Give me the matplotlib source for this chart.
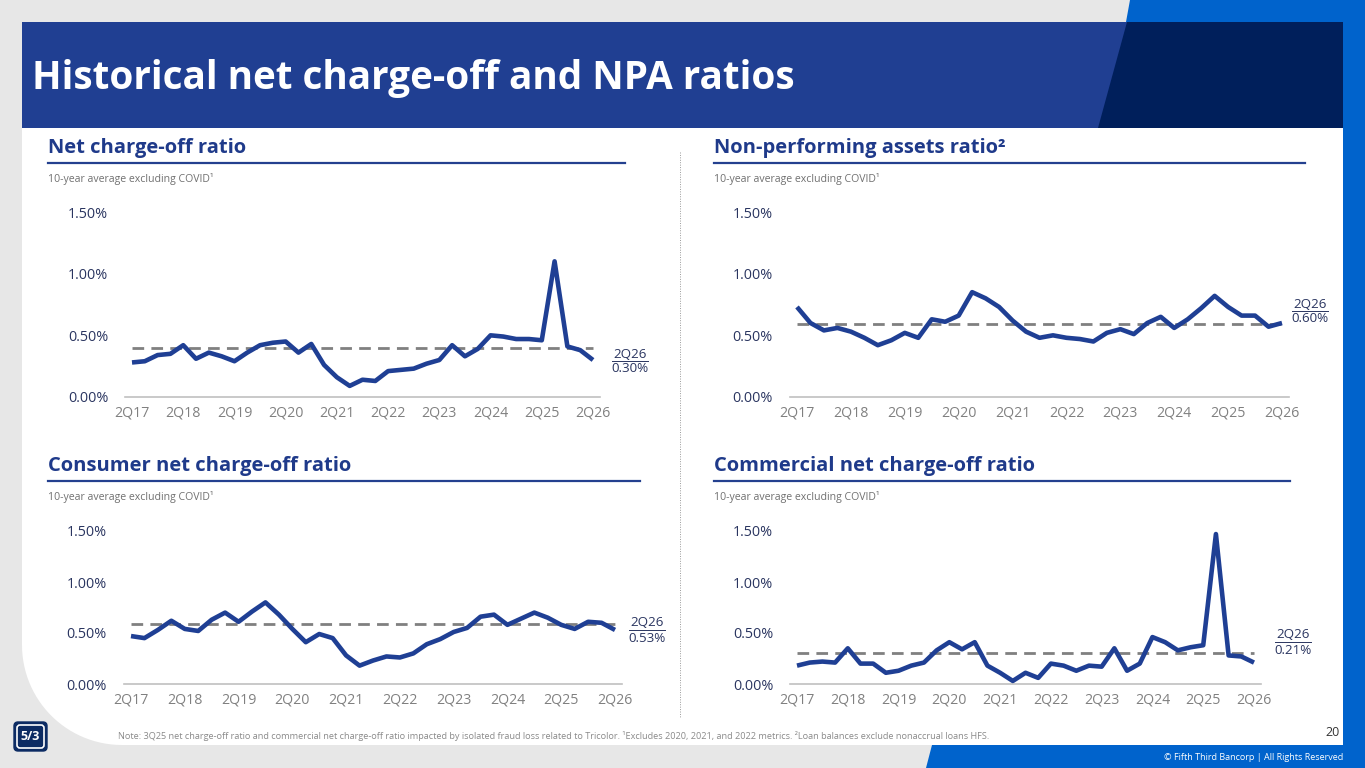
import numpy as np
import matplotlib
matplotlib.use("Agg")
import matplotlib.pyplot as plt
from matplotlib.patches import Polygon, Rectangle, FancyBboxPatch

plt.rcParams['font.family'] = ['Open Sans', 'DejaVu Sans']

# ---- data (values in %) 2Q17 .. 2Q26 ----
tick_labels = ["2Q17", "2Q18", "2Q19", "2Q20", "2Q21", "2Q22", "2Q23", "2Q24", "2Q25", "2Q26"]

nco = [0.28, 0.29, 0.34, 0.35, 0.42, 0.31, 0.36, 0.33, 0.29, 0.36,
       0.42, 0.44, 0.45, 0.36, 0.43, 0.26, 0.16, 0.09, 0.14, 0.13,
       0.21, 0.22, 0.23, 0.27, 0.30, 0.42, 0.33, 0.39, 0.50, 0.49,
       0.47, 0.47, 0.46, 1.10, 0.41, 0.38, 0.30]
nco_avg = 0.40

npa = [0.73, 0.60, 0.54, 0.56, 0.53, 0.48, 0.42, 0.46, 0.52, 0.48,
       0.63, 0.61, 0.66, 0.85, 0.80, 0.73, 0.62, 0.53, 0.48, 0.50,
       0.48, 0.47, 0.45, 0.52, 0.55, 0.51, 0.60, 0.65, 0.56, 0.63,
       0.72, 0.82, 0.73, 0.66, 0.66, 0.57, 0.60]
npa_avg = 0.59

consumer = [0.47, 0.45, 0.53, 0.62, 0.54, 0.52, 0.63, 0.70, 0.61, 0.71,
            0.80, 0.68, 0.54, 0.41, 0.49, 0.45, 0.28, 0.18, 0.23, 0.27,
            0.26, 0.30, 0.39, 0.44, 0.51, 0.55, 0.66, 0.68, 0.58, 0.64,
            0.70, 0.65, 0.58, 0.54, 0.61, 0.60, 0.53]
consumer_avg = 0.59

commercial = [0.18, 0.21, 0.22, 0.21, 0.35, 0.20, 0.20, 0.11, 0.13, 0.18,
              0.21, 0.33, 0.41, 0.34, 0.41, 0.18, 0.11, 0.03, 0.11, 0.06,
              0.20, 0.18, 0.13, 0.18, 0.17, 0.35, 0.13, 0.20, 0.46, 0.41,
              0.33, 0.36, 0.38, 1.47, 0.28, 0.27, 0.21]
commercial_avg = 0.30

W, H = 1365, 768
LINE = '#1f3f94'
NAVY_TXT = '#1f3a8a'
TICK_Y = '#2a3560'
TICK_X = '#808080'

fig = plt.figure(figsize=(W / 100, H / 100), dpi=100)
fig.patch.set_facecolor('#e7e7e7')

bg = fig.add_axes([0, 0, 1, 1])
bg.set_xlim(0, W)
bg.set_ylim(H, 0)
bg.axis('off')
bg.set_zorder(0)

# white card with a rounded bottom-left corner
r = 100
t = np.linspace(np.pi, np.pi / 2, 30)
arc_x = 22 + r + r * np.cos(t)
arc_y = 745 - r + r * np.sin(t)
card = [(22, 128)] + list(zip(arc_x, arc_y)) + [(1343, 745), (1343, 128)]
bg.add_patch(Polygon(card, closed=True, facecolor='white', edgecolor='none'))

# header bars
bg.add_patch(Rectangle((22, 22), 1321, 106, facecolor='#203f92', edgecolor='none'))
bg.add_patch(Polygon([(1127, 22), (1343, 22), (1343, 128), (1098, 128)],
                     facecolor='#001f5b', edgecolor='none'))
bg.add_patch(Polygon([(1130, 0), (1365, 0), (1365, 768), (926, 768), (932, 745),
                      (1343, 745), (1343, 22), (1126, 22)],
                     facecolor='#0063cc', edgecolor='none'))

bg.text(32, 79, "Historical net charge-off and NPA ratios", color='white',
        fontsize=27.8, fontweight='bold', va='center', ha='left')

# divider
bg.plot([680, 680], [152, 718], color='#9a9a9a', lw=0.7, ls=(0, (1, 1.5)))

# logo
bg.add_patch(FancyBboxPatch((14, 722), 33, 29, boxstyle='round,pad=0,rounding_size=4',
                            facecolor='#0c2b63', edgecolor='#0c2b63', lw=1))
bg.add_patch(FancyBboxPatch((17, 725), 27, 23, boxstyle='round,pad=0,rounding_size=3',
                            facecolor='#0c2b63', edgecolor='white', lw=1.2))
bg.text(30.5, 737, "5/3", color='white', fontsize=9, fontweight='bold', ha='center', va='center')

# footer
bg.text(118, 736, "Note: 3Q25 net charge-off ratio and commercial net charge-off ratio impacted by isolated "
        "fraud loss related to Tricolor. \u00b9Excludes 2020, 2021, and 2022 metrics. "
        "\u00b2Loan balances exclude nonaccrual loans HFS.",
        color='#8a8a8a', fontsize=6.6, ha='left', va='center')
bg.text(1340, 733, "20", color='#333333', fontsize=9, ha='right', va='center')
bg.text(1343, 757, "\u00a9 Fifth Third Bancorp | All Rights Reserved", color='white',
        fontsize=6.5, ha='right', va='center')


def px_axes(left, top, right, bottom):
    return fig.add_axes([left / W, 1 - bottom / H, (right - left) / W, (bottom - top) / H])


def panel(title, title_x, title_y, rule_end, vals, avg,
          x_first, x_last, y_zero, y_top, ann_x, ann_y):
    # header
    bg.text(title_x, title_y, title, color=NAVY_TXT, fontsize=14.5, fontweight='bold',
            ha='left', va='center')
    bg.plot([title_x, rule_end], [title_y + 15, title_y + 15], color='#24408f', lw=1.6)
    bg.text(title_x, title_y + 31, "10-year average excluding COVID\u00b9", color='#707070',
            fontsize=7.6, ha='left', va='center')

    n = len(vals)
    step = (x_last - x_first) / (n - 1)
    pad = 0.55
    ax = px_axes(x_first - pad * step, y_top, x_last + pad * step, y_zero)
    ax.set_facecolor('none')
    ax.set_xlim(-pad, n - 1 + pad)
    ax.set_ylim(0, 1.5)
    x = np.arange(n)
    ax.plot([0, n - 1], [avg, avg], color='#808080', lw=2.0, ls=(0, (4.2, 2.6)), zorder=2)
    ax.plot(x, vals, color=LINE, lw=3.3, solid_joinstyle='round', solid_capstyle='butt',
            zorder=3, clip_on=False)
    for s in ['top', 'right', 'left']:
        ax.spines[s].set_visible(False)
    ax.spines['bottom'].set_color('#c0c0c0')
    ax.spines['bottom'].set_linewidth(1.2)
    yt = [0, 0.5, 1.0, 1.5]
    ax.set_yticks(yt)
    ax.set_yticklabels([f"{v:.2f}%" for v in yt])
    ax.set_xticks(x[::4])
    ax.set_xticklabels(tick_labels)
    ax.tick_params(axis='y', length=0, pad=12, labelsize=10.4, labelcolor=TICK_Y)
    ax.tick_params(axis='x', length=0, pad=6, labelsize=10.2, labelcolor=TICK_X)

    # last value callout
    bg.text(ann_x, ann_y, tick_labels[-1], color=TICK_Y, fontsize=9.6, ha='center', va='center')
    bg.plot([ann_x - 18, ann_x + 18], [ann_y + 6.5, ann_y + 6.5], color=TICK_Y, lw=0.7)
    bg.text(ann_x, ann_y + 15, f"{vals[-1]:.2f}%", color=TICK_Y, fontsize=9.6,
            ha='center', va='center')
    return ax


panel("Net charge-off ratio", 48, 148, 625, nco, nco_avg,
      132, 593, 397, 212, 630, 354)
panel("Non-performing assets ratio\u00b2", 714, 148, 1305, npa, npa_avg,
      797, 1282, 397, 212, 1310, 304)
panel("Consumer net charge-off ratio", 48, 466, 640, consumer, consumer_avg,
      131, 615, 684, 531, 647, 623)
panel("Commercial net charge-off ratio", 714, 466, 1290, commercial, commercial_avg,
      797, 1254, 684, 531, 1293, 635)

fig.savefig("out.png", dpi=100, facecolor=fig.get_facecolor())
